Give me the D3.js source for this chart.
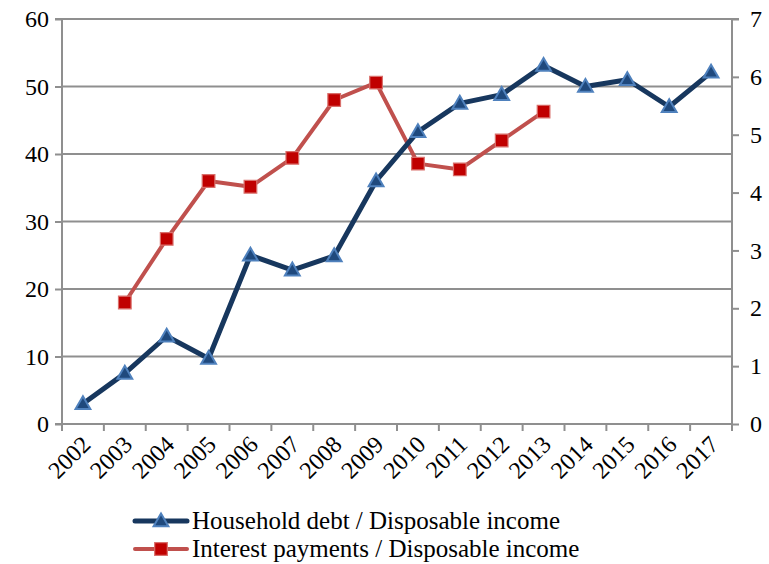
<!DOCTYPE html>
<html>
<head>
<meta charset="utf-8">
<script src="https://cdn.jsdelivr.net/npm/d3@7"></script>
</head>
<body style="margin:0;background:#fff">
<svg id="chart" width="769" height="564"></svg>
<script>
const years = ["2002","2003","2004","2005","2006","2007","2008","2009","2010","2011","2012","2013","2014","2015","2016","2017"];
const householdDebt = [3, 7.5, 13, 9.7, 25, 22.8, 24.9, 36, 43.3, 47.5, 48.8, 53.1, 50, 51, 47, 52.1];
const interestPayments = [null, 2.1, 3.2, 4.2, 4.1, 4.6, 5.6, 5.9, 4.5, 4.4, 4.9, 5.4, null, null, null, null];
const leftTicks = [0, 10, 20, 30, 40, 50, 60];
const rightTicks = [0, 1, 2, 3, 4, 5, 6, 7];
const seriesNames = ["Household debt / Disposable income", "Interest payments / Disposable income"];

(function() {
const FONT = "serif";
const svg = d3.select("#chart");
const pL = 62, pR = 732, pT = 19, pB = 424;
const gridColor = "#8f8f8f";
const fontSize = 24;

const x = d3.scaleBand().domain(years).range([pL, pR]);
const yL = d3.scaleLinear().domain([0, 60]).range([pB, pT]);
const yR = d3.scaleLinear().domain([0, 7]).range([pB, pT]);

svg.append("g").selectAll("line").data(leftTicks).join("line")
  .attr("x1", pL).attr("x2", pR)
  .attr("y1", d => yL(d)).attr("y2", d => yL(d))
  .attr("stroke", gridColor).attr("stroke-width", 2);

const gL = svg.append("g").attr("transform", `translate(${pL},0)`)
  .call(d3.axisLeft(yL).tickValues(leftTicks).tickSize(7).tickPadding(6).tickFormat(d3.format("d")));
const gR = svg.append("g").attr("transform", `translate(${pR},0)`)
  .call(d3.axisRight(yR).tickValues(rightTicks).tickSize(7).tickPadding(11).tickFormat(d3.format("d")));
const gB = svg.append("g").attr("transform", `translate(0,${pB})`)
  .call(d3.axisBottom(x).tickSize(0).tickPadding(0));

[gL, gR, gB].forEach(g => {
  g.attr("font-family", FONT).attr("font-size", fontSize);
  g.select(".domain").attr("stroke", gridColor).attr("stroke-width", 2);
  g.selectAll(".tick line").attr("stroke", gridColor).attr("stroke-width", 2);
  g.selectAll("text").attr("font-family", FONT).attr("font-size", fontSize).attr("fill", "#000");
});
gR.select(".domain").attr("d", `M7,${pT}H0V${pB + 4}`);
gL.select(".domain").attr("d", `M-7,${pT}H0V${pB + 4}`);
gB.select(".domain").attr("d", `M${pL - 7},0H${pR}`);

const bounds = years.map(y => x(y)).concat([pR]);
gB.append("g").selectAll("line").data(bounds).join("line")
  .attr("x1", d => d).attr("x2", d => d).attr("y1", 0).attr("y2", 7)
  .attr("stroke", gridColor).attr("stroke-width", 2);

gB.selectAll(".tick text")
  .attr("text-anchor", "end")
  .attr("dy", 0)
  .attr("transform", `translate(${x.bandwidth() / 2 - 12},22) rotate(-45)`)
  .attr("x", 0).attr("y", 0);

const cx = d => x(d) + x.bandwidth() / 2;
const hhData = years.map((y, i) => ({ year: y, v: householdDebt[i] }));
const ipData = years.map((y, i) => ({ year: y, v: interestPayments[i] })).filter(d => d.v !== null);

const hhColor = "#17375e", ipColor = "#c0504d";

svg.append("path").datum(ipData)
  .attr("fill", "none").attr("stroke", ipColor).attr("stroke-width", 4).attr("stroke-linejoin", "round")
  .attr("d", d3.line().x(d => cx(d.year)).y(d => yR(d.v)));

svg.append("path").datum(hhData)
  .attr("fill", "none").attr("stroke", hhColor).attr("stroke-width", 5).attr("stroke-linejoin", "round")
  .attr("d", d3.line().x(d => cx(d.year)).y(d => yL(d.v)));

const tri = d3.symbol().type(d3.symbolTriangle).size(95);
const sq = d3.symbol().type(d3.symbolSquare).size(160);

svg.append("g").selectAll("path").data(ipData).join("path")
  .attr("d", sq)
  .attr("transform", d => `translate(${cx(d.year)},${yR(d.v)})`)
  .attr("fill", "#c00000").attr("stroke", "#d9706c").attr("stroke-width", 1.2);

svg.append("g").selectAll("path").data(hhData).join("path")
  .attr("d", tri)
  .attr("transform", d => `translate(${cx(d.year)},${yL(d.v) + 1})`)
  .attr("fill", "#1f497d").attr("stroke", "#4f81bd").attr("stroke-width", 2);

const legend = svg.append("g");
const legY = [521, 549];
const legX1 = 135, legX2 = 187;
[0, 1].forEach(i => {
  const g = legend.append("g");
  g.append("line").attr("x1", legX1).attr("x2", legX2).attr("y1", legY[i]).attr("y2", legY[i])
    .attr("stroke", i === 0 ? hhColor : ipColor).attr("stroke-width", i === 0 ? 5 : 4).attr("stroke-linecap", "round");
  g.append("path").attr("d", i === 0 ? tri : sq)
    .attr("transform", `translate(${(legX1 + legX2) / 2},${legY[i] + (i === 0 ? 1 : 0)})`)
    .attr("fill", i === 0 ? "#1f497d" : "#c00000")
    .attr("stroke", i === 0 ? "#4f81bd" : "#d9706c").attr("stroke-width", i === 0 ? 2 : 1.2);
  g.append("text").attr("x", 192).attr("y", legY[i] + 8)
    .attr("font-family", FONT).attr("font-size", 25)
    .attr("fill", "#000").text(seriesNames[i]);
});
})();
</script>
</body>
</html>
